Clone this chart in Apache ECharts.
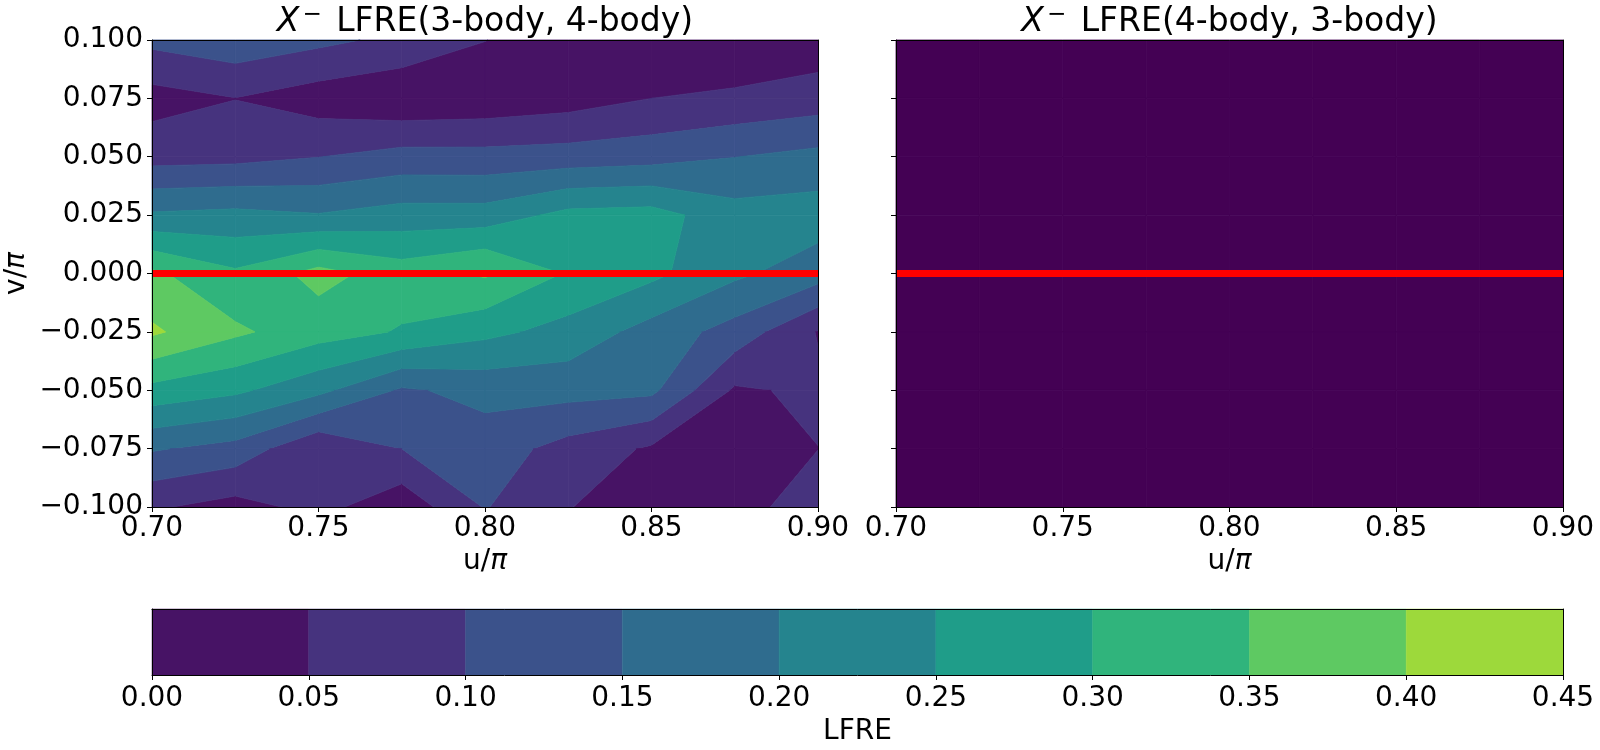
<!DOCTYPE html>
<html>
<head>
<meta charset="utf-8">
<script src="https://cdn.jsdelivr.net/npm/echarts@6/dist/echarts.min.js"></script>
<style>
  html, body { margin: 0; background: #fff; }
  #main { width: 1600px; height: 750px; }
</style>
</head>
<body>
<div id="main"></div>
<script>
// grid nodes: u/pi along columns, v/pi along rows (top row = 0.1)
const uValues = [0.7, 0.725, 0.75, 0.775, 0.8, 0.825, 0.85, 0.875, 0.9];
const vValues = [0.1, 0.075, 0.05, 0.025, 0, -0.025, -0.05, -0.075, -0.1];

// LFRE(3-body, 4-body), one row per v value
const lfre34 = [
  [0.113, 0.134, 0.112, 0.088, 0.051, 0.020, 0.030, 0.005, 0.020],
  [0.030, 0.049, 0.024, 0.008, 0.014, 0.027, 0.050, 0.060, 0.074],
  [0.080, 0.084, 0.099, 0.118, 0.117, 0.122, 0.130, 0.149, 0.164],
  [0.207, 0.214, 0.203, 0.221, 0.221, 0.265, 0.270, 0.220, 0.225],
  [0.360, 0.308, 0.368, 0.325, 0.357, 0.295, 0.262, 0.210, 0.172],
  [0.408, 0.359, 0.321, 0.296, 0.263, 0.232, 0.180, 0.130, 0.047],
  [0.284, 0.260, 0.213, 0.143, 0.165, 0.168, 0.161, 0.043, 0.059],
  [0.155, 0.132, 0.054, 0.100, 0.126, 0.081, 0.043, 0.020, 0.0495],
  [0.056, 0.031, 0.065, 0.017, 0.103, 0.052, 0.020, 0.035, 0.070]
];

// LFRE(4-body, 3-body): zero everywhere
const lfre43 = [
  [0, 0, 0, 0, 0, 0, 0, 0, 0],
  [0, 0, 0, 0, 0, 0, 0, 0, 0],
  [0, 0, 0, 0, 0, 0, 0, 0, 0],
  [0, 0, 0, 0, 0, 0, 0, 0, 0],
  [0, 0, 0, 0, 0, 0, 0, 0, 0],
  [0, 0, 0, 0, 0, 0, 0, 0, 0],
  [0, 0, 0, 0, 0, 0, 0, 0, 0],
  [0, 0, 0, 0, 0, 0, 0, 0, 0],
  [0, 0, 0, 0, 0, 0, 0, 0, 0]
];

// contour levels and band colours (viridis)
const levels = [0, 0.05, 0.1, 0.15, 0.2, 0.25, 0.3, 0.35, 0.4, 0.45];
const bandColors = ['#471365', '#46337e', '#3b528b', '#2f6c8e', '#25848e',
                    '#1f9d89', '#30b47c', '#5ec962', '#9dd93b'];
const rightLevels = [0, 0.05];
const rightColors = ['#440154'];

const FONT = 'DejaVu Sans';
const FS = 28;

function fmt(v, d) {
  return (v < -1e-9 ? '\u2212' : '') + Math.abs(v).toFixed(d);
}

// marching squares for one band [lo, hi] in one cell.
// quad: 4 corners {u, v, f} in perimeter order. Returns list of point lists.
function bandPolygons(quad, lo, hi) {
  const fc = (quad[0].f + quad[1].f + quad[2].f + quad[3].f) / 4;
  const inBand = function (f) { return f >= lo && f <= hi; };
  const items = [];
  for (let e = 0; e < 4; e++) {
    const p = quad[e], q = quad[(e + 1) % 4];
    items.push({ cross: false, pt: [p.u, p.v], f: p.f });
    const cs = [];
    [lo, hi].forEach(function (L) {
      if ((p.f - L) * (q.f - L) < 0) {
        const t = (L - p.f) / (q.f - p.f);
        const up = q.f > p.f;
        cs.push({ cross: true, L: L, t: t, enter: (L === lo) === up,
                  pt: [p.u + t * (q.u - p.u), p.v + t * (q.v - p.v)] });
      }
    });
    cs.sort(function (a, b) { return a.t - b.t; });
    cs.forEach(function (c) { items.push(c); });
  }
  const n = items.length;
  if (n === 4) {
    return inBand(quad[0].f) ? [quad.map(function (p) { return [p.u, p.v]; })] : [];
  }
  // join crossings of the same level; saddles decided by the centre value
  const partner = {};
  [lo, hi].forEach(function (L) {
    const idx = [];
    items.forEach(function (it, i) { if (it.cross && it.L === L) idx.push(i); });
    if (idx.length === 2) {
      partner[idx[0]] = idx[1]; partner[idx[1]] = idx[0];
    } else if (idx.length === 4) {
      let j = (idx[0] + 1) % n;
      while (items[j].cross) j = (j + 1) % n;
      const useA = (items[j].f > L) !== (fc > L);
      const pairs = useA ? [[0, 1], [2, 3]] : [[1, 2], [3, 0]];
      pairs.forEach(function (pr) {
        partner[idx[pr[0]]] = idx[pr[1]]; partner[idx[pr[1]]] = idx[pr[0]];
      });
    }
  });
  const used = {};
  const polys = [];
  items.forEach(function (it, start) {
    if (!it.cross || !it.enter || used[start]) return;
    const pts = [];
    let cur = start, guard = 0;
    do {
      used[cur] = true;
      pts.push(items[cur].pt);
      let j = (cur + 1) % n;
      while (!items[j].cross) {
        if (inBand(items[j].f)) pts.push(items[j].pt);
        j = (j + 1) % n;
      }
      pts.push(items[j].pt);
      cur = partner[j];
      guard++;
    } while (cur !== undefined && cur !== start && guard < 12);
    if (pts.length >= 3) polys.push(pts);
  });
  return polys;
}

function contourSeries(values, lv, colors, axisIdx) {
  const cells = [];
  for (let r = 0; r < vValues.length - 1; r++) {
    for (let c = 0; c < uValues.length - 1; c++) {
      cells.push([uValues[c], vValues[r], c, r]);
    }
  }
  return {
    type: 'custom',
    xAxisIndex: axisIdx,
    yAxisIndex: axisIdx,
    z: 2,
    silent: true,
    encode: { x: 0, y: 1 },
    data: cells,
    renderItem: function (params, api) {
      const c = api.value(2), r = api.value(3);
      // tiny offset so that no corner sits exactly on a level
      const quad = [[c, r], [c + 1, r], [c + 1, r + 1], [c, r + 1]].map(function (k) {
        return { u: uValues[k[0]], v: vValues[k[1]], f: values[k[1]][k[0]] + 1e-9 };
      });
      const children = [];
      for (let k = 0; k < colors.length; k++) {
        bandPolygons(quad, lv[k], lv[k + 1]).forEach(function (pts) {
          children.push({
            type: 'polygon',
            shape: { points: pts.map(function (p) { return api.coord(p); }) },
            style: { fill: colors[k], stroke: colors[k], lineWidth: 0.8 }
          });
        });
      }
      return { type: 'group', children: children };
    }
  };
}

function zeroLine(axisIdx) {
  return {
    type: 'line',
    xAxisIndex: axisIdx,
    yAxisIndex: axisIdx,
    z: 4,
    symbol: 'none',
    silent: true,
    data: [[uValues[0], 0], [uValues[uValues.length - 1], 0]],
    lineStyle: { color: '#ff0000', width: 7 }
  };
}

const tickLabel = { fontSize: FS, fontFamily: FONT, color: '#000' };
const piName = {
  fontSize: FS, fontFamily: FONT, color: '#000',
  rich: {
    n: { fontSize: FS, fontFamily: FONT, color: '#000' },
    p: { fontSize: FS, fontFamily: FONT, color: '#000', fontStyle: 'italic' }
  }
};

function valueAxis(extra) {
  return Object.assign({
    type: 'value',
    z: 10,
    axisLine: { show: true, onZero: false, lineStyle: { color: '#000', width: 1 } },
    axisTick: { show: true, length: 5, lineStyle: { color: '#000', width: 1 } },
    axisLabel: Object.assign({ margin: 9 }, tickLabel),
    splitLine: { show: false }
  }, extra);
}

function frameAxis(gridIndex, position, min, max) {
  return {
    type: 'value', gridIndex: gridIndex, position: position, min: min, max: max, z: 10,
    axisLine: { show: true, onZero: false, lineStyle: { color: '#000', width: 1 } },
    axisTick: { show: false }, axisLabel: { show: false }, splitLine: { show: false }
  };
}

function titleText(x, text) {
  return {
    type: 'text', z: 20, x: x, y: 41,
    style: {
      text: '{i|X}{s|\u2212} ' + text,
      fontSize: 33, fontFamily: FONT, fill: '#000', align: 'center', verticalAlign: 'bottom',
      rich: {
        i: { fontSize: 33, fontFamily: FONT, fontStyle: 'italic', fill: '#000' },
        s: { fontSize: 23, fontFamily: FONT, fill: '#000', padding: [0, 4, 14, 3] }
      }
    }
  };
}

const uMin = uValues[0], uMax = uValues[uValues.length - 1];
const vMin = vValues[vValues.length - 1], vMax = vValues[0];

const option = {
  animation: false,
  backgroundColor: '#fff',
  grid: [
    { left: 152, top: 40, width: 666, height: 467 },
    { left: 896, top: 40, width: 667, height: 467 },
    { left: 152, top: 609, width: 1411, height: 66 }
  ],
  xAxis: [
    valueAxis({ gridIndex: 0, min: uMin, max: uMax, interval: 0.05,
      axisLabel: Object.assign({ margin: 8, formatter: v => fmt(v, 2) }, tickLabel),
      name: '{n|u/}{p|π}', nameLocation: 'middle', nameGap: 40, nameTextStyle: piName }),
    valueAxis({ gridIndex: 1, min: uMin, max: uMax, interval: 0.05,
      axisLabel: Object.assign({ margin: 8, formatter: v => fmt(v, 2) }, tickLabel),
      name: '{n|u/}{p|π}', nameLocation: 'middle', nameGap: 40, nameTextStyle: piName }),
    valueAxis({ gridIndex: 2, min: levels[0], max: levels[levels.length - 1], interval: 0.05,
      axisLabel: Object.assign({ margin: 10, formatter: v => fmt(v, 2) }, tickLabel),
      name: 'LFRE', nameLocation: 'middle', nameGap: 43,
      nameTextStyle: { fontSize: FS, fontFamily: FONT, color: '#000' } }),
    frameAxis(0, 'top', uMin, uMax),
    frameAxis(1, 'top', uMin, uMax),
    frameAxis(2, 'top', levels[0], levels[levels.length - 1])
  ],
  yAxis: [
    valueAxis({ gridIndex: 0, min: vMin, max: vMax, interval: 0.025,
      axisLabel: Object.assign({ margin: 9, formatter: v => fmt(v, 3) }, tickLabel),
      name: '{n|v/}{p|π}', nameLocation: 'middle', nameGap: 121, nameTextStyle: piName }),
    valueAxis({ gridIndex: 1, min: vMin, max: vMax, interval: 0.025,
      axisLabel: { show: false } }),
    frameAxis(2, 'left', 0, 1),
    frameAxis(0, 'right', vMin, vMax),
    frameAxis(1, 'right', vMin, vMax),
    frameAxis(2, 'right', 0, 1)
  ],
  graphic: [
    titleText(485, 'LFRE(3-body, 4-body)'),
    titleText(1229.5, 'LFRE(4-body, 3-body)')
  ],
  series: [
    contourSeries(lfre34, levels, bandColors, 0),
    contourSeries(lfre43, rightLevels, rightColors, 1),
    zeroLine(0),
    zeroLine(1),
    {
      // colour bar
      type: 'custom',
      xAxisIndex: 2,
      yAxisIndex: 2,
      z: 2,
      silent: true,
      encode: { x: [0, 1] },
      data: bandColors.map((col, k) => [levels[k], levels[k + 1], k]),
      renderItem: function (params, api) {
        const p0 = api.coord([api.value(0), 0]);
        const p1 = api.coord([api.value(1), 1]);
        return {
          type: 'rect',
          shape: { x: p0[0], y: p1[1], width: p1[0] - p0[0], height: p0[1] - p1[1] },
          style: { fill: bandColors[api.value(2)], stroke: bandColors[api.value(2)], lineWidth: 0.5 }
        };
      }
    }
  ]
};

const chart = echarts.init(document.getElementById('main'));
chart.setOption(option);
</script>
</body>
</html>
